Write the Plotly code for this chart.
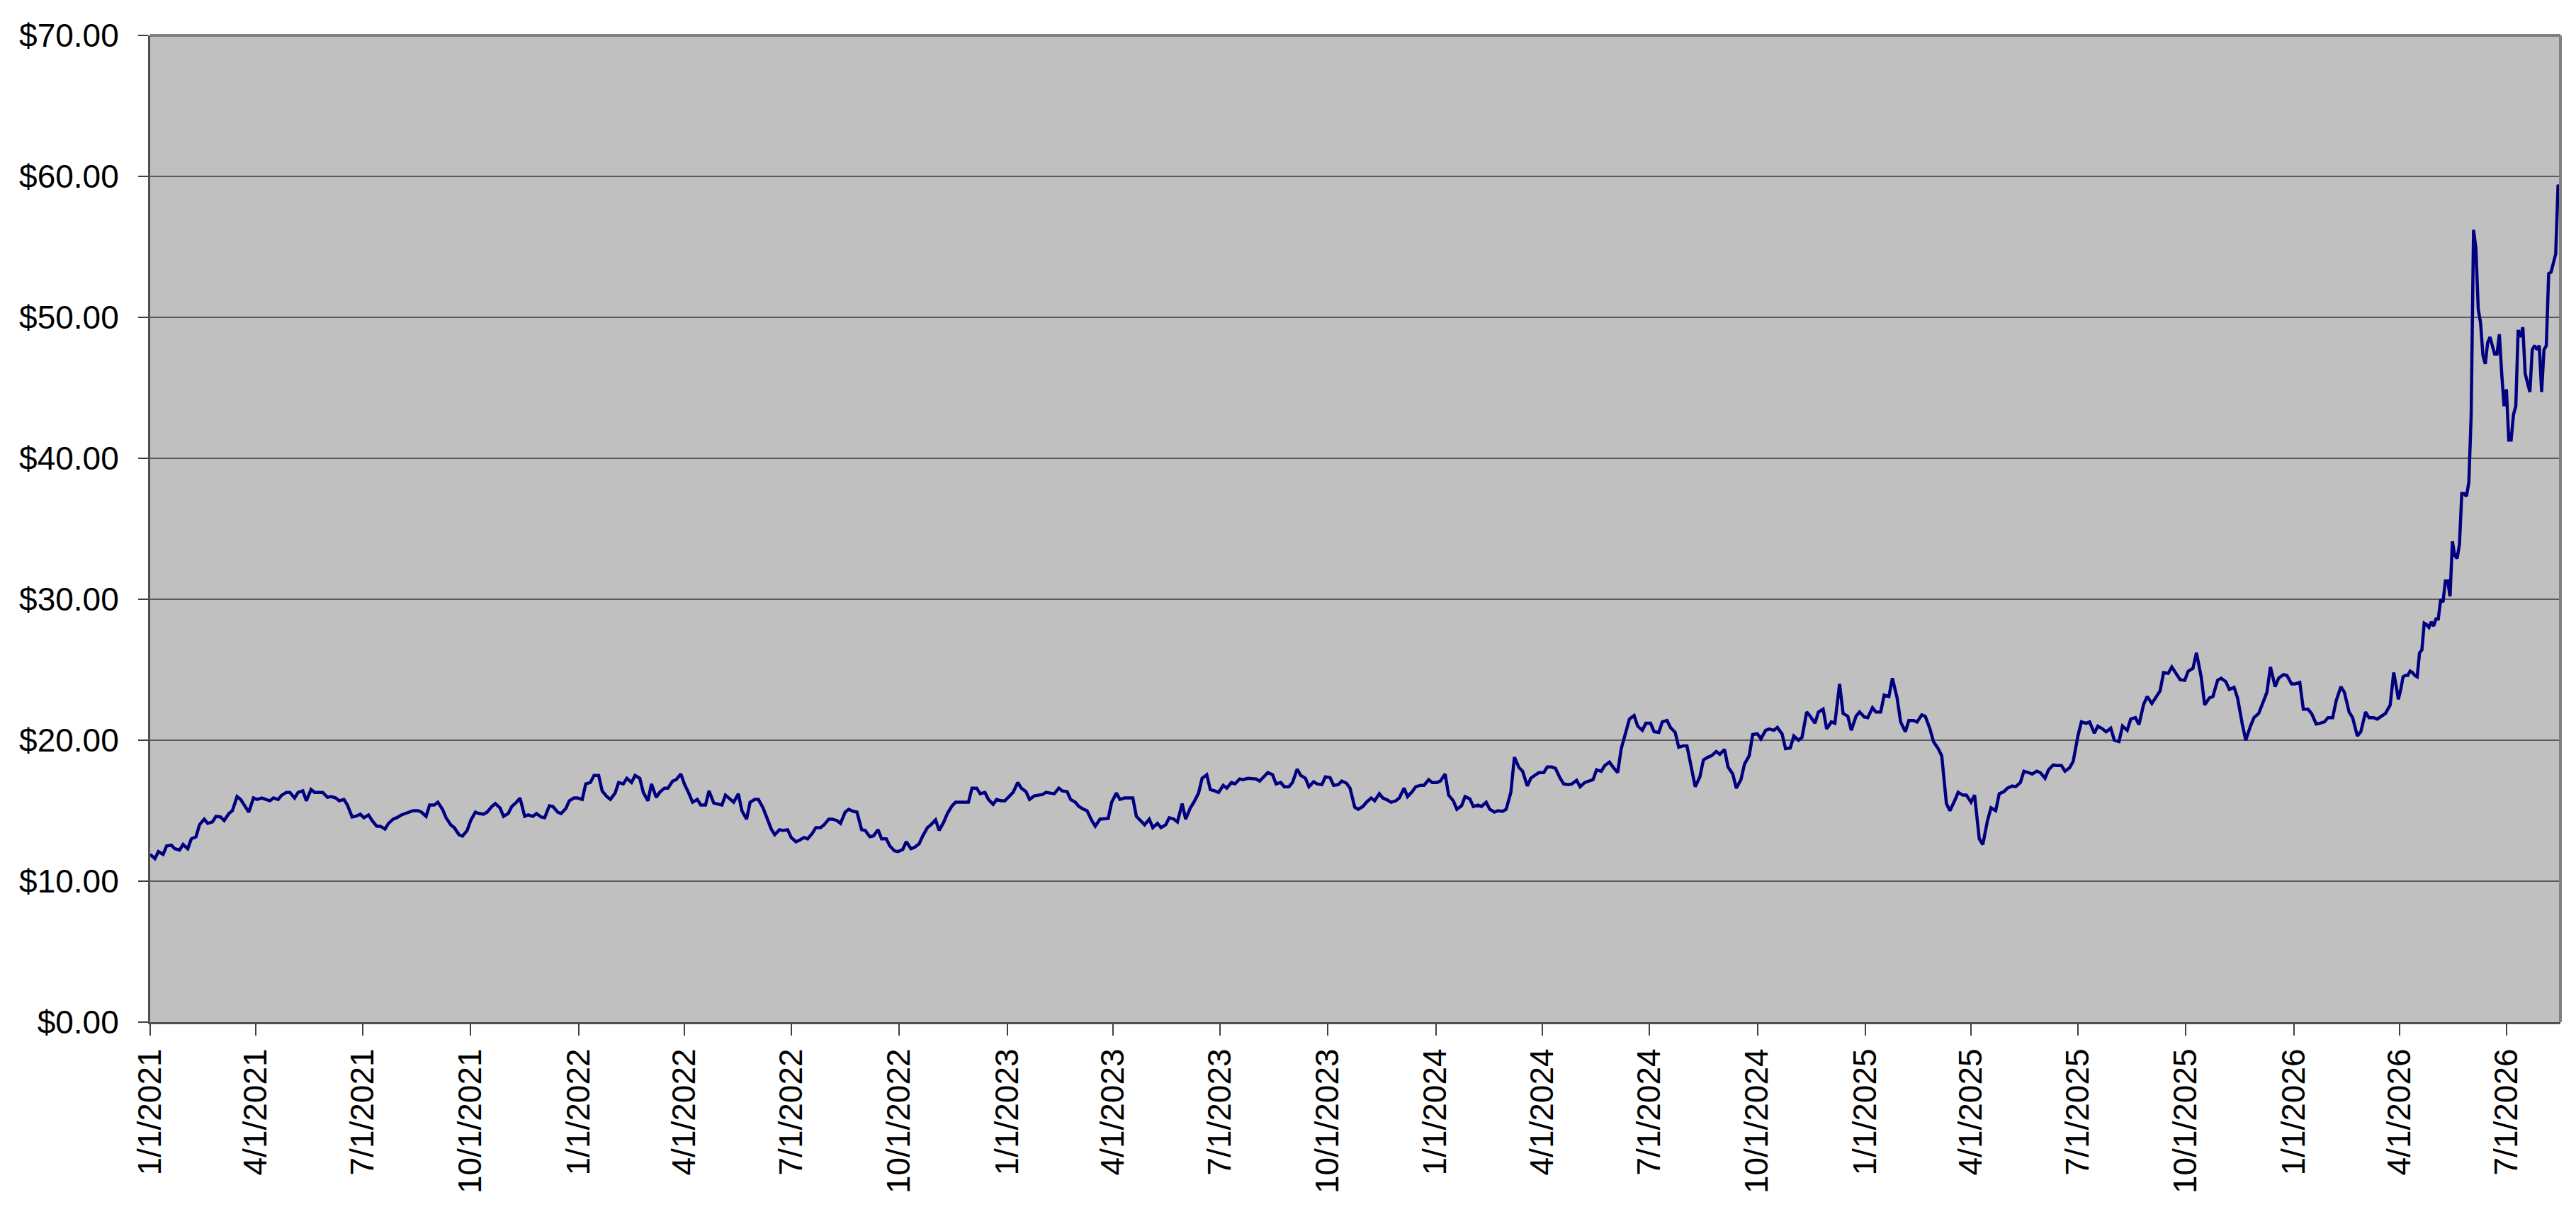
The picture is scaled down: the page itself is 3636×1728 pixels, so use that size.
import pandas as pd
import plotly.graph_objects as go

# closes: Fridays from 1/1/2021 and Tuesdays from 1/5/2021,
# both running up to late 3/2026
fri_start = "2021-01-01"
fri_close = [
    11.9, 12.1, 12.5, 12.3, 12.6, 13.0, 14.0, 14.1, 14.6, 14.3,
    15.0, 15.8, 14.9, 15.8, 15.8, 15.9, 16.1, 16.3, 16.3, 15.7,
    16.3, 16.3, 16.0, 15.7, 15.4, 14.6, 14.5, 14.3, 13.9, 14.1,
    14.5, 14.8, 15.0, 14.9, 15.4, 15.6, 14.5, 13.8, 13.2, 14.3,
    14.8, 14.9, 15.5, 14.6, 15.3, 15.9, 14.7, 14.8, 14.5, 15.3,
    14.8, 15.7, 15.9, 16.9, 17.5, 16.4, 15.8, 17.0, 17.3, 17.5,
    16.3, 16.9, 16.3, 16.6, 17.2, 16.9, 15.6, 15.4, 16.4, 15.5,
    16.1, 15.6, 15.0, 15.6, 15.8, 14.6, 13.3, 13.6, 13.1, 12.9,
    13.0, 13.8, 14.0, 14.4, 14.1, 15.1, 14.9, 13.6, 13.2, 13.0,
    12.5, 12.1, 12.8, 12.4, 13.2, 14.0, 13.6, 14.8, 15.6, 15.6,
    16.6, 16.2, 15.8, 15.8, 15.7, 16.3, 16.6, 15.8, 16.1, 16.3,
    16.2, 16.4, 15.8, 15.3, 15.0, 13.9, 14.4, 15.6, 15.8, 15.9,
    14.6, 14.0, 13.8, 13.8, 14.5, 14.2, 14.4, 15.6, 17.3, 16.5,
    16.3, 16.6, 16.9, 17.2, 17.3, 17.1, 17.7, 16.9, 16.7, 17.0,
    17.5, 16.7, 16.9, 17.4, 16.8, 17.1, 16.6, 15.1, 15.6, 15.7,
    15.9, 15.6, 15.9, 16.0, 16.7, 16.8, 17.0, 17.1, 16.1, 15.1,
    16.0, 15.3, 15.3, 15.1, 15.0, 15.1, 18.8, 17.8, 17.3, 17.7,
    18.1, 18.0, 16.9, 16.9, 16.7, 17.1, 17.9, 18.2, 18.1, 19.4,
    21.5, 21.0, 21.2, 20.6, 21.3, 20.9, 19.5, 19.6, 16.7, 18.6,
    18.9, 19.0, 18.1, 16.6, 18.3, 20.4, 20.1, 20.8, 20.9, 19.4,
    20.3, 20.2, 21.7, 22.0, 20.8, 21.2, 21.9, 20.7, 22.0, 21.6,
    22.0, 23.2, 24.4, 21.3, 21.4, 21.3, 21.7, 19.9, 18.9, 15.0,
    16.3, 16.1, 16.1, 12.6, 15.2, 16.2, 16.6, 16.7, 17.8, 17.6,
    17.7, 17.9, 18.2, 17.8, 18.5, 21.3, 21.3, 21.0, 20.6, 20.0,
    21.0, 21.5, 21.1, 23.1, 23.0, 24.8, 25.2, 24.3, 24.9, 26.2,
    22.5, 23.1, 24.4, 23.6, 23.0, 20.0, 21.6, 22.5, 25.2, 24.4,
    24.6, 24.0, 22.2, 21.9, 21.2, 21.6, 22.8, 23.4, 21.6, 20.6,
    21.6, 21.5, 21.9, 24.8,
]

tue_start = "2021-01-05"
tue_close = [
    11.6, 11.9, 12.55, 12.2, 12.3, 13.15, 14.4, 14.2, 14.55, 14.8,
    16.0, 15.25, 15.9, 15.9, 15.7, 15.8, 16.3, 15.9, 16.4, 16.5,
    16.3, 15.95, 15.9, 15.8, 14.55, 14.75, 14.7, 13.9, 13.7, 14.4,
    14.7, 14.95, 15.0, 14.6, 15.4, 15.1, 14.0, 13.3, 13.6, 14.9,
    14.75, 15.3, 15.2, 14.8, 15.6, 14.6, 14.6, 14.55, 15.35, 14.9,
    15.15, 15.9, 15.8, 17.0, 17.5, 16.0, 16.25, 16.9, 17.0, 17.3,
    15.7, 15.95, 16.6, 17.1, 17.6, 16.2, 15.8, 15.4, 15.55, 15.4,
    15.8, 16.2, 14.4, 15.8, 15.2, 13.7, 13.65, 13.65, 12.8, 13.1,
    13.4, 13.8, 14.4, 14.3, 14.9, 14.95, 13.65, 13.15, 13.65, 13.0,
    12.15, 12.25, 12.3, 12.65, 13.8, 14.35, 14.2, 15.35, 15.6, 15.6,
    16.6, 16.3, 15.45, 15.7, 16.0, 17.0, 16.35, 16.05, 16.15, 16.25,
    16.6, 16.35, 15.6, 15.1, 14.3, 14.4, 14.45, 16.25, 15.9, 15.9,
    14.25, 14.4, 14.1, 14.0, 14.4, 15.5, 15.2, 16.25, 17.55, 16.4,
    16.8, 17.0, 17.25, 17.3, 17.25, 17.4, 17.55, 17.0, 16.7, 17.95,
    17.3, 17.05, 16.85, 17.35, 16.85, 16.95, 15.25, 15.3, 15.9, 16.2,
    15.75, 15.7, 16.6, 16.35, 16.8, 17.2, 17.0, 17.6, 15.7, 15.35,
    15.85, 15.4, 15.6, 14.9, 14.95, 16.3, 18.05, 16.75, 17.55, 17.7,
    18.1, 17.3, 16.85, 17.15, 17.0, 17.2, 17.8, 18.45, 17.7, 20.5,
    21.75, 20.7, 21.2, 20.55, 21.4, 20.55, 19.6, 17.95, 17.4, 18.8,
    19.2, 19.35, 17.6, 17.2, 18.9, 20.45, 20.7, 20.7, 20.45, 19.45,
    20.0, 22.0, 21.2, 22.2, 21.3, 24.0, 21.7, 21.7, 21.65, 22.3,
    22.0, 23.1, 23.0, 20.6, 21.4, 21.8, 20.8, 19.4, 15.5, 15.7,
    16.1, 15.6, 13.0, 14.3, 15.0, 16.35, 16.75, 17.0, 17.7, 17.8,
    17.3, 18.25, 18.2, 18.05, 20.3, 21.2, 20.5, 20.8, 20.85, 19.9,
    20.7, 21.6, 22.55, 22.6, 23.5, 24.75, 24.7, 24.25, 25.1, 24.5,
    23.0, 24.25, 24.15, 23.75, 21.15, 21.0, 21.9, 23.4, 23.8, 24.65,
    24.0, 24.1, 22.2, 21.15, 21.3, 21.6, 23.8, 22.0, 20.3, 22.0,
    21.6, 21.7, 22.5,
]

# every other day from 3/29/2026, where the price runs up
late_start = "2026-03-29"
late_close = [
    23.9, 22.9, 23.6, 24.5, 24.6, 24.6, 24.9, 24.8, 24.6, 24.5,
    26.2, 26.4, 28.3, 28.2, 28.0, 28.4, 28.1, 28.6, 28.6, 30.0,
    29.8, 31.3, 31.3, 30.2, 34.1, 33.1, 32.9, 33.9, 37.5, 37.5,
    37.3, 38.3, 43.1, 56.2, 54.9, 50.6, 49.6, 47.3, 46.7, 48.2,
    48.6, 48.0, 47.4, 47.4, 48.8, 46.0, 43.7, 44.9, 41.3, 41.3,
    43.1, 43.7, 49.1, 48.6, 49.3, 46.0, 45.4, 44.7, 47.7, 48.0,
    47.7, 48.0, 44.7, 47.7, 48.0, 53.1, 53.2, 53.9, 54.5, 59.4,
    59.0,
]

df = pd.concat([
    pd.DataFrame({"date": pd.date_range(fri_start, periods=len(fri_close), freq="7D"), "close": fri_close}),
    pd.DataFrame({"date": pd.date_range(tue_start, periods=len(tue_close), freq="7D"), "close": tue_close}),
    pd.DataFrame({"date": pd.date_range(late_start, periods=len(late_close), freq="2D"), "close": late_close}),
]).sort_values("date")

tick_dates = pd.date_range("2021-01-01", "2026-07-01", freq="QS")
tick_text = [f"{d.month}/{d.day}/{d.year}" for d in tick_dates]

font = "Liberation Sans, Arial, sans-serif"

fig = go.Figure()
fig.add_trace(go.Scatter(
    x=df["date"], y=df["close"], mode="lines",
    line=dict(color="#000080", width=4.5),
    showlegend=False))

fig.update_layout(
    width=3636, height=1728,
    margin=dict(l=204, r=30, t=42, b=293),
    paper_bgcolor="white",
    plot_bgcolor="#C0C0C0",
    font=dict(family=font, color="black"),
)
fig.update_xaxes(
    range=[df["date"].iloc[0], df["date"].iloc[-1]],
    tickvals=tick_dates, ticktext=tick_text,
    tickangle=-90, tickfont=dict(size=46, family=font),
    ticks="outside", ticklen=16, tickwidth=2, tickcolor="#404040",
    showgrid=False, zeroline=False,
    showline=True, linecolor="#505050", linewidth=3,
)
fig.update_yaxes(
    range=[0, 70], dtick=10,
    tickprefix="$", tickformat=".2f",
    tickfont=dict(size=46, family=font),
    ticks="outside", ticklen=14, tickwidth=2, tickcolor="#404040",
    ticklabelstandoff=18,
    showgrid=True, gridcolor="#5a5a5a", gridwidth=1.5,
    zeroline=False,
    showline=True, linecolor="#505050", linewidth=3,
)
# top and right frame of the plot area
fig.add_shape(type="line", xref="paper", yref="paper", x0=0, x1=1, y0=1, y1=1,
              line=dict(color="#808080", width=4))
fig.add_shape(type="line", xref="paper", yref="paper", x0=1, x1=1, y0=0, y1=1,
              line=dict(color="#808080", width=4))

fig.write_html("out.html")
